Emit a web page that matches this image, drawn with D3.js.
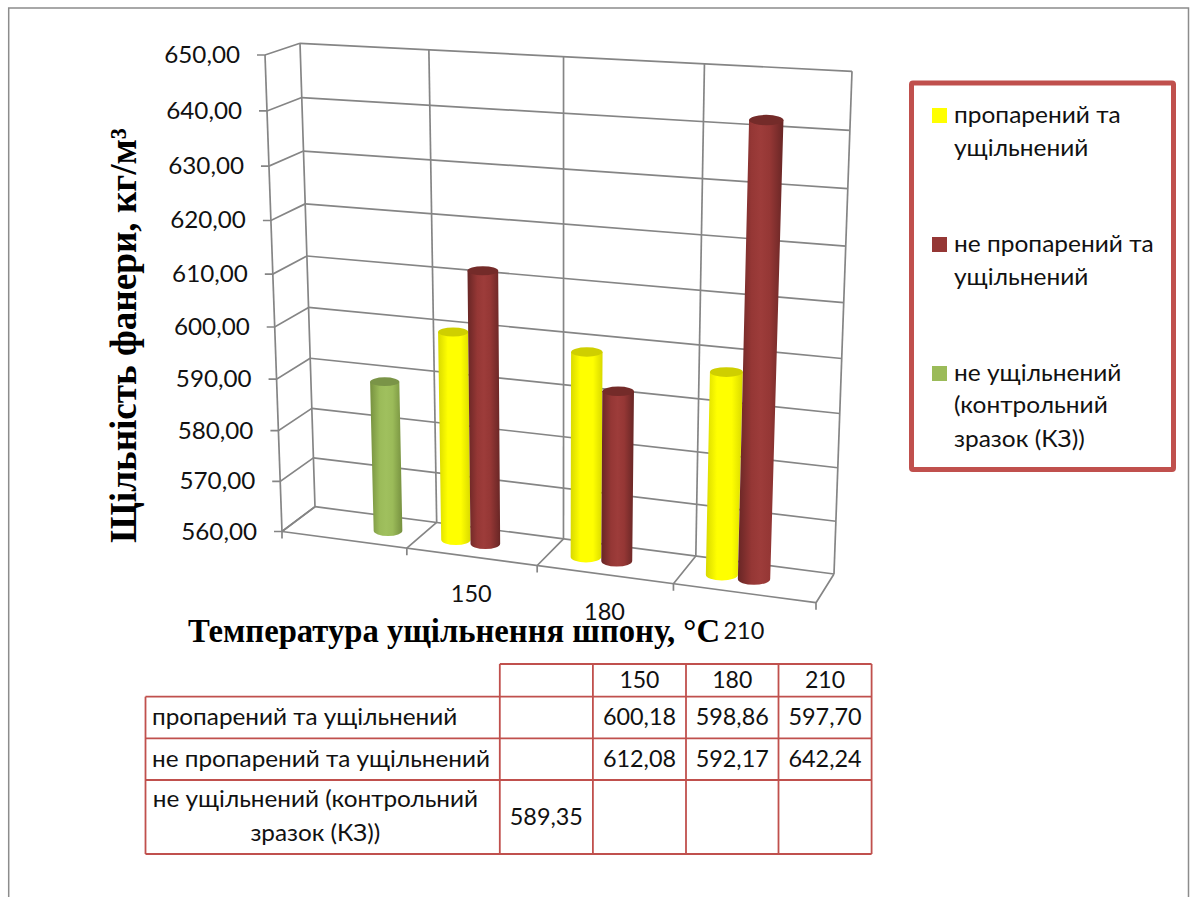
<!DOCTYPE html>
<html lang="uk">
<head>
<meta charset="utf-8">
<style>
  html, body { margin: 0; padding: 0; background: #fff; overflow: hidden; }
  svg { display: block; }
  .sans { font-family: Lato, "Open Sans", sans-serif; fill: #111; }
  .serif { font-family: "Liberation Serif", serif; font-weight: bold; fill: #000; }
</style>
</head>
<body>
<script src="https://cdn.jsdelivr.net/npm/d3@7/dist/d3.min.js"></script>
<script>
// Plywood density by veneer densification temperature
const categories = ["", "150", "180", "210"];
const steamed = [null, 600.18, 598.86, 597.70];
const notSteamed = [null, 612.08, 592.17, 642.24];
const control = [589.35, null, null, null];
const seriesNames = ["пропарений та ущільнений", "не пропарений та ущільнений", "не ущільнений (контрольний зразок (КЗ))"];
const valueTicks = [560, 570, 580, 590, 600, 610, 620, 630, 640, 650];
const tickLabel = v => v.toFixed(2).replace(".", ",");

const series = [
  { name: seriesNames[0], values: steamed, base: "#ffff00", edge: "#d9d900", mid: "#ffff00", top: "#cfcf00", swatch: "#ffff00" },
  { name: seriesNames[1], values: notSteamed, base: "#953735", edge: "#682625", mid: "#9d3c3a", top: "#742b29", swatch: "#953735" },
  { name: seriesNames[2], values: control, base: "#9bbb59", edge: "#76903f", mid: "#a0c05e", top: "#7a9447", swatch: "#9bbb59" }
];

const width = 1192, height = 897;
const svg = d3.select("body").append("svg").attr("width", width).attr("height", height);
const defs = svg.append("defs");

// Outer chart frame: left, top and right sides only, the bottom runs off the page
svg.append("path")
  .attr("d", `M8.7,${height} L8.7,8 L1188.5,8 L1188.5,${height}`)
  .attr("fill", "none").attr("stroke", "#8c8c8c").attr("stroke-width", 1.5);

// Maps the unit square to a quadrilateral given as [00, 10, 11, 01] corners
function quadMap([p0, p1, p2, p3]) {
  const dx1 = p1[0] - p2[0], dx2 = p3[0] - p2[0], sx = p0[0] - p1[0] + p2[0] - p3[0];
  const dy1 = p1[1] - p2[1], dy2 = p3[1] - p2[1], sy = p0[1] - p1[1] + p2[1] - p3[1];
  const den = dx1 * dy2 - dx2 * dy1;
  const g = (sx * dy2 - dx2 * sy) / den, h = (dx1 * sy - sx * dy1) / den;
  const a = p1[0] - p0[0] + g * p1[0], b = p3[0] - p0[0] + h * p3[0], c = p0[0];
  const d = p1[1] - p0[1] + g * p1[1], e = p3[1] - p0[1] + h * p3[1], f = p0[1];
  return (u, v) => {
    const w = g * u + h * v + 1;
    return [(a * u + b * v + c) / w, (d * u + e * v + f) / w];
  };
}

// Box of the 3-D plot: back wall and front plane
const backPlane = quadMap([[315, 506.7], [834, 574], [852, 71.3], [300, 43.3]]);
const frontPlane = quadMap([[282, 531.5], [816, 602.7], [835, 84], [265, 55]]);
function project(u, v, depth) {
  const b = backPlane(u, v), f = frontPlane(u, v);
  return [f[0] + (b[0] - f[0]) * depth, f[1] + (b[1] - f[1]) * depth];
}

const yScale = d3.scaleLinear().domain([560, 650]).range([0, 1]);
const xScale = d3.scaleBand().domain(categories.map((c, i) => i)).range([0, 1]);
const seriesScale = d3.scaleBand().domain(series.map(s => s.name))
  .range([0, xScale.bandwidth()]).paddingInner(0).paddingOuter(0.67);

// Grid
const grid = svg.append("g").attr("fill", "none").attr("stroke", "#858585").attr("stroke-width", 1.7);
const line = (a, b) => `M${a[0]},${a[1]}L${b[0]},${b[1]}`;
const uEdges = categories.map((c, i) => xScale(i)).concat([1]);

grid.selectAll(".wall").data(valueTicks).join("path").attr("class", "wall")
  .attr("d", v => line(project(0, yScale(v), 1), project(1, yScale(v), 1)));
grid.selectAll(".side").data(valueTicks).join("path").attr("class", "side")
  .attr("d", v => {
    const p = project(0, yScale(v), 0), q = project(0, yScale(v), 1);
    return `M${p[0] - 8},${p[1]}L${p[0]},${p[1]}L${q[0]},${q[1]}`;
  });
grid.selectAll(".up").data(uEdges).join("path").attr("class", "up")
  .attr("d", u => line(project(u, 0, 1), project(u, 1, 1)));
grid.selectAll(".floor").data(uEdges).join("path").attr("class", "floor")
  .attr("d", u => {
    const p = project(u, 0, 0);
    return line(project(u, 0, 1), p) + `L${p[0]},${p[1] + 7}`;
  });
grid.append("path").attr("d", line(project(0, 0, 0), project(1, 0, 0)));
grid.append("path").attr("d", line(project(0, 0, 0), project(0, 1, 0)));

// Cylinders
series.forEach((s, i) => {
  const grad = defs.append("linearGradient").attr("id", `cyl${i}`);
  [[0, s.edge], [0.3, s.base], [0.5, s.mid], [0.7, s.base], [1, s.edge]].forEach(([o, c]) =>
    grad.append("stop").attr("offset", o).attr("stop-color", c));
});

series.forEach((s, i) => {
  const g = svg.append("g");
  s.values.forEach((val, c) => {
    if (val === null) return;
    const u0 = xScale(c) + seriesScale(s.name), u1 = u0 + seriesScale.bandwidth();
    const um = (u0 + u1) / 2;
    const rxAt = v => {
      const a = project(u0, v, 0.5), b = project(u1, v, 0.5);
      return (b[0] - a[0]) / 2;
    };
    const bot = project(um, 0, 0.5), top = project(um, yScale(val), 0.5);
    const rb = rxAt(0), rt = rxAt(yScale(val));
    const ryb = rb * 0.36, ryt = rt * 0.3;
    g.append("path")
      .attr("d", `M${top[0] - rt},${top[1]}L${bot[0] - rb},${bot[1]}` +
        `A${rb},${ryb} 0 0 0 ${bot[0] + rb},${bot[1]}L${top[0] + rt},${top[1]}Z`)
      .attr("fill", `url(#cyl${i})`);
    g.append("ellipse").attr("cx", top[0]).attr("cy", top[1]).attr("rx", rt).attr("ry", ryt).attr("fill", s.top);
  });
});

// Stretches a text element horizontally by the given factor
function stretch(sel, k) {
  sel.each(function () {
    const len = this.getComputedTextLength();
    d3.select(this).attr("textLength", len * k).attr("lengthAdjust", "spacingAndGlyphs");
  });
}

// Value axis labels
svg.append("g").selectAll("text").data(valueTicks).join("text")
  .attr("class", "sans").attr("font-size", 23.5).attr("text-anchor", "end")
  .attr("x", v => project(0, yScale(v), 0)[0] - 25)
  .attr("y", v => project(0, yScale(v), 0)[1] + 8)
  .text(tickLabel).call(stretch, 1.03);

// Category labels sit a fixed distance under the front floor edge
svg.append("g").selectAll("text").data(categories.slice(1)).join("text")
  .attr("class", "sans").attr("font-size", 23.5).attr("text-anchor", "middle")
  .attr("x", c => project(xScale(categories.indexOf(c)) + xScale.bandwidth() / 2, 0, 0)[0])
  .attr("y", c => project(xScale(categories.indexOf(c)) + xScale.bandwidth() / 2, 0, 0)[1] + 45.5)
  .text(c => c);

// Axis titles
svg.append("text").attr("class", "serif").attr("font-size", 37)
  .attr("transform", "translate(136,543) rotate(-90)")
  .attr("textLength", 415).attr("lengthAdjust", "spacingAndGlyphs")
  .text("Щільність фанери, кг/м³");
svg.append("text").attr("class", "serif").attr("font-size", 34)
  .attr("x", 188).attr("y", 642)
  .attr("textLength", 532).attr("lengthAdjust", "spacingAndGlyphs")
  .text("Температура ущільнення шпону, °С");

// Legend
svg.append("rect").attr("x", 911.5).attr("y", 83).attr("width", 262).attr("height", 386.5)
  .attr("rx", 1.5).attr("fill", "#fff").attr("stroke", "#c0504d").attr("stroke-width", 5);
const legendRows = [
  { lines: ["пропарений та", "ущільнений"], swatchY: 108, y: [122.7, 156] },
  { lines: ["не пропарений та", "ущільнений"], swatchY: 237, y: [251.7, 285] },
  { lines: ["не ущільнений", "(контрольний", "зразок (КЗ))"], swatchY: 366, y: [381, 413.3, 446.7] }
];
legendRows.forEach((row, i) => {
  svg.append("rect").attr("x", 932).attr("y", row.swatchY).attr("width", 15).attr("height", 15).attr("fill", series[i].swatch);
  row.lines.forEach((t, j) => {
    svg.append("text").attr("class", "sans").attr("font-size", 24)
      .attr("x", 954).attr("y", row.y[j]).text(t).call(stretch, 1.02);
  });
});

// Data table under the plot
const colX = [145.5, 499.8, 592.9, 686, 778.5, 871.6];
const rowY = [664, 696.7, 738.3, 780, 854];
const fmt = v => v === null ? "" : tickLabel(v);
const table = svg.append("g").attr("stroke", "#c0504d").attr("stroke-width", 1.8);
rowY.forEach((y, i) => table.append("line")
  .attr("x1", i === 0 ? colX[1] : colX[0]).attr("x2", colX[5]).attr("y1", y).attr("y2", y));
colX.forEach((x, i) => table.append("line")
  .attr("x1", x).attr("x2", x).attr("y1", i === 0 ? rowY[1] : rowY[0]).attr("y2", rowY[4]));

const cellText = (t, x, y, anchor, k) => svg.append("text").attr("class", "sans").attr("font-size", 23.5)
  .attr("x", x).attr("y", y).attr("text-anchor", anchor).text(t).call(stretch, k);
const colMid = i => (colX[i] + colX[i + 1]) / 2;
categories.forEach((c, i) => { if (c) cellText(c, colMid(i + 1), 687.7, "middle", 0.98); });
cellText("пропарений та ущільнений", 152, 725, "start", 1.035);
cellText("не пропарений та ущільнений", 152, 766.7, "start", 1.035);
cellText("не ущільнений (контрольний", 315.4, 806.7, "middle", 1.035);
cellText("зразок (КЗ))", 315.4, 840.7, "middle", 1.035);
[725, 766.7, 825].forEach((y, r) => {
  series[r].values.forEach((v, c) => { if (v !== null) cellText(fmt(v), colMid(c + 1), y, "middle", 0.995); });
});
</script>
</body>
</html>
